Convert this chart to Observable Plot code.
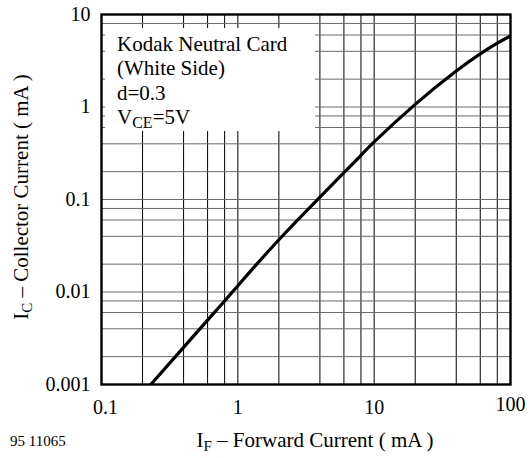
<!DOCTYPE html>
<html>
<head>
<meta charset="utf-8">
<script src="https://cdn.jsdelivr.net/npm/d3@7"></script>
<script src="https://cdn.jsdelivr.net/npm/@observablehq/plot@0.6"></script>
<style>
  html, body { margin: 0; padding: 0; background: #fff; }
  #chart { width: 530px; height: 458px; }
</style>
</head>
<body>
<div id="chart"></div>
<script>
// Forward current I_F (mA) and collector current I_C (mA)
const forwardCurrent = [0.23, 0.4, 0.6, 0.8, 1, 2, 4, 6, 8, 10, 20, 40, 60, 80, 100];
const collectorCurrent = [0.001, 0.00252, 0.00496, 0.0080, 0.0117, 0.0367, 0.106, 0.195, 0.300, 0.419, 1.068, 2.45, 3.75, 4.89, 5.87];

// Axis ticks and labels
const xTicks = [0.1, 1, 10, 100];
const xTickLabels = ["0.1", "1", "10", "100"];
const yTicks = [0.001, 0.01, 0.1, 1, 10];
const yTickLabels = ["0.001", "0.01", "0.1", "1", "10"];

// Grid lines
const xGrid = [0.2, 0.4, 0.6, 0.8, 1, 2, 4, 6, 8, 10, 20, 40, 60, 80];
const yGrid = [0.002, 0.004, 0.006, 0.008, 0.01, 0.02, 0.04, 0.06, 0.08, 0.1, 0.2, 0.4, 0.6, 0.8, 1, 2, 4, 6, 8];

// Annotation text
const legendLines = ["Kodak Neutral Card", "(White Side)", "d=0.3"];
const legendLast = ["V", "CE", "=5V"];
const figureId = "95 11065";

const data = forwardCurrent.map((f, i) => ({ f, c: collectorCurrent[i] }));
const xLabel = d => xTickLabels[xTicks.indexOf(d)];
const yLabel = d => yTickLabels[yTicks.indexOf(d)];

const font = "'Liberation Serif', 'Times New Roman', serif";

const svg = Plot.plot({
  width: 530,
  height: 458,
  marginLeft: 101,
  marginRight: 20,
  marginTop: 14,
  marginBottom: 74,
  style: { fontFamily: font, fontSize: "20px", background: "#fff", color: "#000" },
  x: { type: "log", domain: [0.1, 100] },
  y: { type: "log", domain: [0.001, 10] },
  marks: [
    Plot.ruleX(xGrid, { stroke: "#000", strokeWidth: 1 }),
    Plot.ruleY(yGrid, { stroke: "#6a6a6a", strokeWidth: 1 }),
    Plot.line(data, { x: "f", y: "c", stroke: "#000", strokeWidth: 3.2, curve: "natural", clip: true }),
    Plot.frame({ stroke: "#000", strokeWidth: 2.4 }),
    Plot.axisY(yTicks, { tickSize: 0, tickPadding: 11, tickFormat: yLabel, label: null, fontSize: 20 }),
    Plot.axisX([0.1], { tickSize: 0, tickPadding: 15, tickFormat: xLabel, label: null, fontSize: 20, dx: 4 }),
    Plot.axisX([1, 10], { tickSize: 0, tickPadding: 15, tickFormat: xLabel, label: null, fontSize: 20 }),
    Plot.axisX([100], { tickSize: 0, tickPadding: 12, tickFormat: xLabel, label: null, fontSize: 20 })
  ]
});

const s = d3.select(svg);

// Legend box (white panel covering the grid)
s.append("rect").attr("x", 105).attr("y", 28).attr("width", 210).attr("height", 103).attr("fill", "#fff");
const lg = s.append("g").attr("font-family", font).attr("font-size", 21).attr("fill", "#000")
  .attr("text-anchor", "start");
legendLines.forEach((t, i) => {
  lg.append("text").attr("x", 117).attr("y", 51 + i * 24.3).text(t);
});
const vt = lg.append("text").attr("x", 117).attr("y", 51 + 3 * 24.3);
vt.append("tspan").text(legendLast[0]);
vt.append("tspan").attr("dy", 4).attr("font-size", 16).text(legendLast[1]);
vt.append("tspan").attr("dy", -4).text(legendLast[2]);

// X axis title
const xt = s.append("text").attr("font-family", font).attr("font-size", 21)
  .attr("x", 315).attr("y", 447).attr("text-anchor", "middle");
xt.append("tspan").text("I");
xt.append("tspan").attr("dy", 4).attr("font-size", 15).text("F");
xt.append("tspan").attr("dy", -4).text(" – Forward Current ( mA )");

// Y axis title
const yt = s.append("text").attr("font-family", font).attr("font-size", 21)
  .attr("text-anchor", "middle").attr("transform", "translate(28,197) rotate(-90)");
yt.append("tspan").text("I");
yt.append("tspan").attr("dy", 4).attr("font-size", 15).text("C");
yt.append("tspan").attr("dy", -4).text(" – Collector Current ( mA )");

// Figure id
s.append("text").attr("font-family", font).attr("font-size", 15).attr("text-anchor", "start")
  .attr("x", 10).attr("y", 446).text(figureId);

document.getElementById("chart").appendChild(svg);
</script>
</body>
</html>
